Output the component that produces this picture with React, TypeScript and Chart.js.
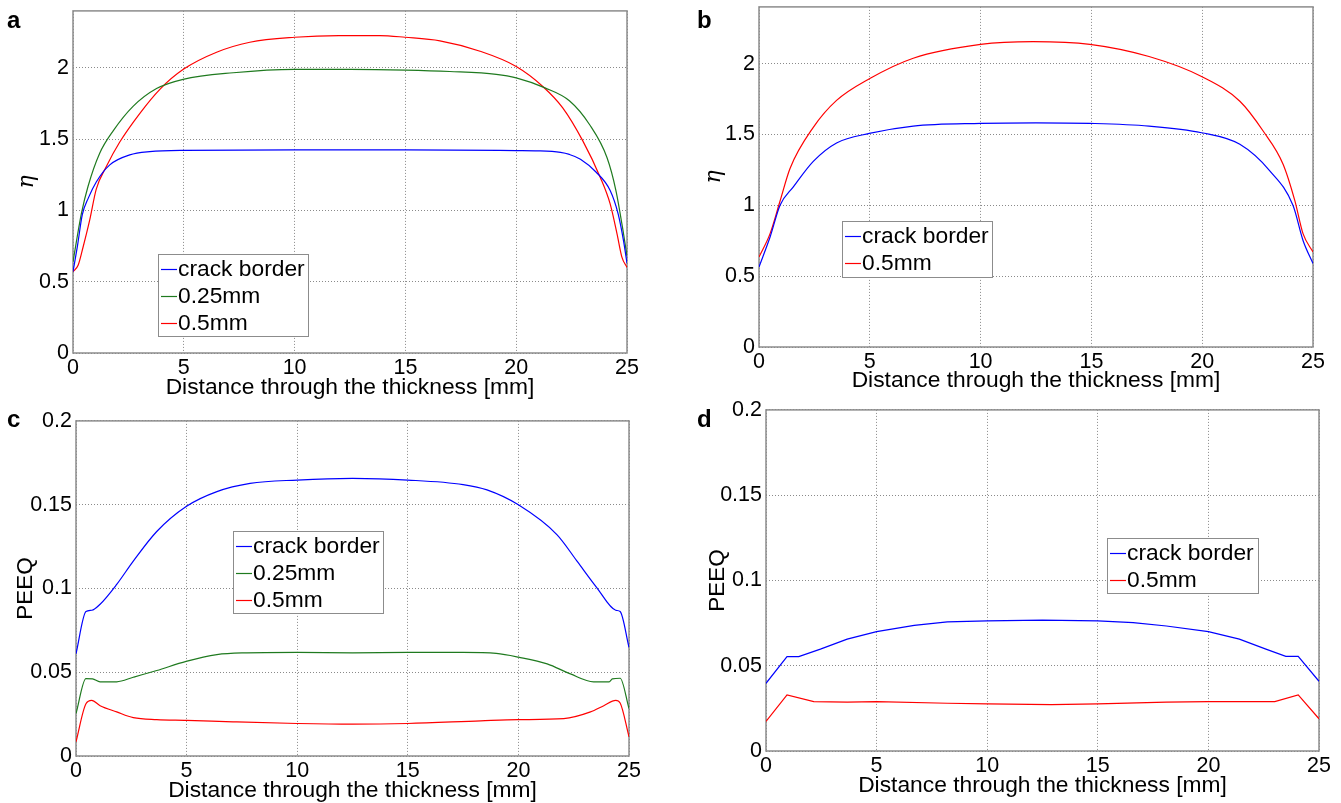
import React, { useEffect, useRef } from "react";
import { Chart, registerables } from "chart.js";

Chart.register(...registerables);

// ---------- tick labels ----------
const xTickValues = [0, 5, 10, 15, 20, 25];
const etaTickValues = [0, 0.5, 1, 1.5, 2];
const peeqTickValues = [0, 0.05, 0.1, 0.15, 0.2];

const xTitle = "Distance through the thickness [mm]";
const seriesLabels = ["crack border", "0.25mm", "0.5mm"];

// ---------- panel a (η) ----------
const aCrackX = [0, 0.2, 0.42, 0.7, 1.05, 1.66, 2.56, 3.46, 5, 10, 15, 20, 21, 22, 22.4, 22.9, 23.6, 24.24, 24.6, 24.84, 25];
const aCrackY = [0.57, 0.75, 0.97, 1.09, 1.2, 1.32, 1.39, 1.413, 1.422, 1.425, 1.425, 1.42, 1.418, 1.407, 1.393, 1.36, 1.27, 1.14, 0.976, 0.79, 0.63];
const aQuarterX = [0, 0.38, 0.68, 1.2, 1.82, 2.71, 3.77, 4.97, 7.23, 10, 12.5, 15, 17, 19.1, 20, 21.3, 22.4, 23.3, 24.1, 24.5, 24.84, 25];
const aQuarterY = [0.64, 0.98, 1.17, 1.4, 1.56, 1.73, 1.855, 1.92, 1.966, 1.99, 1.99, 1.985, 1.975, 1.955, 1.93, 1.86, 1.77, 1.605, 1.37, 1.14, 0.84, 0.68];
const aHalfX = [0, 0.23, 0.45, 0.75, 1.05, 1.51, 2.11, 3.01, 3.92, 4.98, 6.48, 7.98, 10, 12, 13.85, 14.98, 16.56, 18.37, 20, 21.2, 22.1, 23, 23.8, 24.24, 24.55, 24.77, 25];
const aHalfY = [0.57, 0.615, 0.74, 0.93, 1.15, 1.31, 1.48, 1.68, 1.85, 1.99, 2.11, 2.18, 2.215, 2.227, 2.227, 2.215, 2.19, 2.117, 2.01, 1.87, 1.72, 1.49, 1.23, 1.046, 0.836, 0.673, 0.6];

// ---------- panel b (η) ----------
const bCrackX = [0, 0.5, 0.95, 1.55, 2.45, 3.5, 4.98, 6.96, 10, 12.5, 14.93, 17.6, 19.97, 21.7, 23.05, 24.1, 24.55, 25];
const bCrackY = [0.565, 0.776, 1.0, 1.13, 1.31, 1.44, 1.507, 1.559, 1.578, 1.582, 1.578, 1.559, 1.512, 1.43, 1.243, 0.998, 0.752, 0.589];
const bHalfX = [0, 0.5, 0.95, 1.4, 2.45, 3.5, 4.98, 6.96, 10, 12.37, 14.93, 17.6, 19.97, 21.7, 22.75, 23.65, 24.18, 24.55, 25];
const bHalfY = [0.635, 0.8, 1.03, 1.26, 1.55, 1.74, 1.893, 2.038, 2.136, 2.155, 2.136, 2.05, 1.909, 1.734, 1.524, 1.29, 1.033, 0.8, 0.67];

// ---------- panel c (PEEQ) ----------
const cCrackX = [0, 0.45, 0.71, 1.09, 1.84, 2.59, 3.65, 4.98, 6.37, 7.87, 10, 12.5, 15, 17.5, 18.58, 20, 21.75, 22.65, 23.55, 24.4, 24.6, 25];
const cCrackY = [0.061, 0.0862, 0.087, 0.0906, 0.1024, 0.1163, 0.134, 0.1489, 0.1578, 0.1627, 0.1647, 0.1657, 0.1647, 0.162, 0.1588, 0.1499, 0.132, 0.1163, 0.1004, 0.087, 0.0862, 0.0648];
const cQuarterX = [0, 0.45, 0.75, 1.09, 1.84, 2.59, 3.65, 4.98, 6.37, 7.5, 10, 12.5, 15, 17.5, 19, 20, 21.3, 22.35, 23.4, 24.1, 24.25, 24.6, 25];
const cQuarterY = [0.0253, 0.0462, 0.046, 0.0443, 0.0443, 0.047, 0.051, 0.0565, 0.0605, 0.0615, 0.0618, 0.0615, 0.0618, 0.0618, 0.0612, 0.059, 0.055, 0.049, 0.0443, 0.0443, 0.046, 0.0464, 0.0283];
const cHalfX = [0, 0.45, 0.71, 1.09, 1.84, 2.59, 3.65, 5, 7.1, 10, 12.5, 15, 18.3, 20, 22.05, 23.26, 23.86, 24.4, 24.6, 25];
const cHalfY = [0.0085, 0.0312, 0.0332, 0.03, 0.0263, 0.0229, 0.0217, 0.0213, 0.0204, 0.0194, 0.019, 0.0194, 0.021, 0.0217, 0.0223, 0.0263, 0.03, 0.0332, 0.0316, 0.0115];

// ---------- panel d (PEEQ) ----------
const dCrackX = [0, 0.95, 1.48, 2.46, 3.67, 5, 6.7, 8.2, 10, 12.5, 15, 16.6, 18.1, 20, 21.4, 22.6, 23.5, 24.06, 25];
const dCrackY = [0.0397, 0.0553, 0.0553, 0.0597, 0.0656, 0.07, 0.0737, 0.0757, 0.0763, 0.0767, 0.0763, 0.0753, 0.0733, 0.07, 0.0656, 0.0597, 0.0555, 0.0555, 0.0409];
const dHalfX = [0, 0.95, 2.16, 3.67, 5, 8.2, 10, 12.9, 15, 18.1, 20, 23, 24.06, 25];
const dHalfY = [0.0173, 0.0329, 0.029, 0.0286, 0.029, 0.028, 0.0276, 0.0272, 0.0276, 0.0286, 0.029, 0.029, 0.0329, 0.0189];

const BLUE = "#0000ff";
const GREEN = "#1f7a1f";
const RED = "#ff0000";
const FONT = "'Liberation Sans', Arial, sans-serif";

type Series = { label: string; x: number[]; y: number[]; color: string };
type PanelCfg = {
  letter: string;
  l: number; t: number; r: number; b: number;
  yMax: number;
  yTicks: number[];
  yTitle: string;
  yTitleItalicSerif: boolean;
  yTitlePad: number;
  bh: number;
  smooth: boolean;
  legend: { dx: number; dy: number; w: number; h: number };
  series: Series[];
  letterPos: { left: number; top: number };
};

const panels: PanelCfg[] = [
  {
    letter: "a", l: 73, t: 9, r: 627, b: 353, yMax: 2.4, yTicks: etaTickValues,
    yTitle: "η", yTitleItalicSerif: true, yTitlePad: 13, bh: 46, smooth: true,
    legend: { dx: 85, dy: 243, w: 150, h: 82 },
    series: [
      { label: seriesLabels[0], x: aCrackX, y: aCrackY, color: BLUE },
      { label: seriesLabels[1], x: aQuarterX, y: aQuarterY, color: GREEN },
      { label: seriesLabels[2], x: aHalfX, y: aHalfY, color: RED },
    ],
    letterPos: { left: 7, top: 8 },
  },
  {
    letter: "b", l: 759, t: 5, r: 1313, b: 347, yMax: 2.4, yTicks: etaTickValues,
    yTitle: "η", yTitleItalicSerif: true, yTitlePad: 14, bh: 45, smooth: true,
    legend: { dx: 83, dy: 214, w: 150, h: 56 },
    series: [
      { label: seriesLabels[0], x: bCrackX, y: bCrackY, color: BLUE },
      { label: seriesLabels[2], x: bHalfX, y: bHalfY, color: RED },
    ],
    letterPos: { left: 697, top: 8 },
  },
  {
    letter: "c", l: 76, t: 419, r: 629, b: 756, yMax: 0.2, yTicks: peeqTickValues,
    yTitle: "PEEQ", yTitleItalicSerif: false, yTitlePad: 9, bh: 46, smooth: true,
    legend: { dx: 157, dy: 110, w: 150, h: 82 },
    series: [
      { label: seriesLabels[0], x: cCrackX, y: cCrackY, color: BLUE },
      { label: seriesLabels[1], x: cQuarterX, y: cQuarterY, color: GREEN },
      { label: seriesLabels[2], x: cHalfX, y: cHalfY, color: RED },
    ],
    letterPos: { left: 7, top: 407 },
  },
  {
    letter: "d", l: 766, t: 408, r: 1319, b: 751, yMax: 0.2, yTicks: peeqTickValues,
    yTitle: "PEEQ", yTitleItalicSerif: false, yTitlePad: 11, bh: 46, smooth: false,
    legend: { dx: 341, dy: 128, w: 151, h: 55 },
    series: [
      { label: seriesLabels[0], x: dCrackX, y: dCrackY, color: BLUE },
      { label: seriesLabels[2], x: dHalfX, y: dHalfY, color: RED },
    ],
    letterPos: { left: 697, top: 407 },
  },
];

const LW = 70;
const TP = 15;
const RP = 20;

const boxPlugin = {
  id: "mbox",
  beforeDatasetsDraw(chart: any) {
    const { ctx, chartArea } = chart;
    const { left, top, right, bottom } = chartArea;
    ctx.save();
    ctx.strokeStyle = "#8c8c8c";
    ctx.lineWidth = 1.5;
    ctx.strokeRect(left, top, right - left, bottom - top);
    ctx.restore();
  },
};

function makeLegendPlugin(cfg: PanelCfg) {
  return {
    id: "mlegend",
    afterDatasetsDraw(chart: any) {
      const { ctx, chartArea } = chart;
      const x0 = Math.round(chartArea.left + cfg.legend.dx);
      const y0 = Math.round(chartArea.top + cfg.legend.dy);
      const { w, h } = cfg.legend;
      ctx.save();
      ctx.fillStyle = "#ffffff";
      ctx.fillRect(x0, y0, w, h);
      ctx.strokeStyle = "#8c8c8c";
      ctx.lineWidth = 1;
      ctx.strokeRect(x0 + 0.5, y0 + 0.5, w, h);
      ctx.font = `22.8px ${FONT}`;
      ctx.textBaseline = "middle";
      ctx.textAlign = "left";
      chart.data.datasets.forEach((ds: any, i: number) => {
        const y = y0 + 15 + i * 27;
        ctx.strokeStyle = ds.borderColor;
        ctx.lineWidth = 1.2;
        ctx.beginPath();
        ctx.moveTo(x0 + 3, y + 0.5);
        ctx.lineTo(x0 + 19, y + 0.5);
        ctx.stroke();
        ctx.fillStyle = "#000000";
        ctx.fillText(ds.label, x0 + 20, y + 1);
      });
      ctx.restore();
    },
  };
}

function fmt(v: number) {
  return String(+Number(v).toFixed(4));
}

function Panel({ cfg }: { cfg: PanelCfg }) {
  const ref = useRef<HTMLCanvasElement>(null);
  const w = cfg.r - cfg.l + LW + RP;
  const h = cfg.b - cfg.t + TP + cfg.bh;

  useEffect(() => {
    if (!ref.current) return;
    const chart = new Chart(ref.current, {
      type: "line",
      data: {
        datasets: cfg.series.map((s) => ({
          label: s.label,
          data: s.x.map((x, i) => ({ x, y: s.y[i] })),
          borderColor: s.color,
          backgroundColor: s.color,
          borderWidth: 1.2,
          pointRadius: 0,
          fill: false,
          tension: 0,
          cubicInterpolationMode: cfg.smooth ? "monotone" : "default",
        })),
      },
      options: {
        responsive: false,
        maintainAspectRatio: false,
        animation: false,
        devicePixelRatio: 1,
        layout: { padding: { left: 0, top: TP, right: RP, bottom: 0 } },
        plugins: {
          legend: { display: false },
          tooltip: { enabled: false },
        },
        scales: {
          x: {
            type: "linear",
            min: 0,
            max: 25,
            afterBuildTicks: (s: any) => {
              s.ticks = xTickValues.map((v) => ({ value: v }));
            },
            afterFit: (s: any) => {
              s.height = cfg.bh;
            },
            ticks: {
              autoSkip: false,
              maxRotation: 0,
              padding: 2,
              color: "#000",
              font: { family: FONT, size: 21.5 },
              callback: (v: any) => fmt(v),
            },
            grid: { color: "#8a8a8a", lineWidth: 1, drawTicks: false },
            border: { display: false, dash: [1, 2] },
            title: {
              display: true,
              text: xTitle,
              color: "#000",
              padding: 0,
              font: { family: FONT, size: 22.8, lineHeight: 1 },
            },
          },
          y: {
            type: "linear",
            min: 0,
            max: cfg.yMax,
            afterBuildTicks: (s: any) => {
              s.ticks = cfg.yTicks.map((v) => ({ value: v }));
            },
            afterFit: (s: any) => {
              s.width = LW;
            },
            ticks: {
              autoSkip: false,
              padding: 4,
              color: "#000",
              font: { family: FONT, size: 21.5 },
              callback: (v: any) => fmt(v),
            },
            grid: { color: "#8a8a8a", lineWidth: 1, drawTicks: false },
            border: { display: false, dash: [1, 2] },
            title: {
              display: true,
              text: cfg.yTitle,
              color: "#000",
              padding: { top: cfg.yTitlePad, bottom: 0 },
              font: cfg.yTitleItalicSerif
                ? { family: "'DejaVu Serif', serif", size: 22, style: "italic", lineHeight: 1 }
                : { family: FONT, size: 22.5, lineHeight: 1 },
            },
          },
        },
      } as any,
      plugins: [boxPlugin, makeLegendPlugin(cfg)],
    });
    return () => chart.destroy();
  }, [cfg]);

  return (
    <>
      <div
        style={{
          position: "absolute",
          left: cfg.l - LW,
          top: cfg.t - TP,
          width: w,
          height: h,
        }}
      >
        <canvas ref={ref} width={w} height={h} style={{ width: w, height: h, display: "block" }} />
      </div>
      <div
        style={{
          position: "absolute",
          left: cfg.letterPos.left,
          top: cfg.letterPos.top,
          font: `bold 24px ${FONT}`,
          lineHeight: "24px",
          color: "#000",
        }}
      >
        {cfg.letter}
      </div>
    </>
  );
}

export default function App() {
  return (
    <div
      style={{
        position: "absolute",
        left: 0,
        top: 0,
        width: 1341,
        height: 803,
        overflow: "hidden",
        background: "#ffffff",
      }}
    >
      {panels.map((p) => (
        <Panel key={p.letter} cfg={p} />
      ))}
    </div>
  );
}
